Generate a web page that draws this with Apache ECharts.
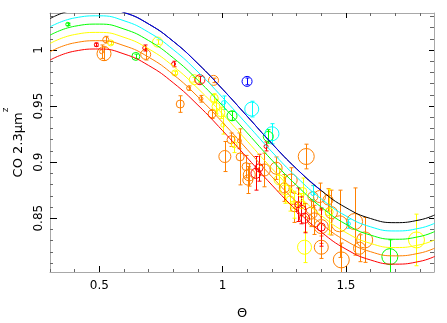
<!DOCTYPE html>
<html>
<head>
<meta charset="utf-8">
<script src="https://cdn.jsdelivr.net/npm/echarts@6/dist/echarts.min.js"></script>
<style>
  html, body { margin: 0; padding: 0; background: #ffffff; }
  #chart { width: 447px; height: 323px; }
</style>
</head>
<body>
<div id="chart"></div>
<script>
// Model curves, sampled along Θ
const thetaGrid = [0.30, 0.40, 0.50, 0.60, 0.70, 0.80, 0.90, 1.00, 1.10, 1.20, 1.30, 1.40, 1.50, 1.60, 1.70, 1.80, 1.86];
const curveRed    = [0.9910, 0.9990, 1.0009, 0.9965, 0.9862, 0.9707, 0.9508, 0.9280, 0.9038, 0.8795, 0.8570, 0.8376, 0.8224, 0.8127, 0.8090, 0.8115, 0.8159];
const curveOrange = [0.9984, 1.0064, 1.0083, 1.0039, 0.9936, 0.9781, 0.9582, 0.9354, 0.9112, 0.8869, 0.8644, 0.8450, 0.8298, 0.8201, 0.8164, 0.8189, 0.8233];
const curveYellow = [1.0058, 1.0138, 1.0157, 1.0113, 1.0010, 0.9855, 0.9656, 0.9428, 0.9186, 0.8943, 0.8718, 0.8524, 0.8372, 0.8275, 0.8238, 0.8263, 0.8307];
const curveGreen  = [1.0132, 1.0212, 1.0231, 1.0187, 1.0084, 0.9929, 0.9730, 0.9502, 0.9260, 0.9017, 0.8792, 0.8598, 0.8446, 0.8349, 0.8312, 0.8337, 0.8381];
const curveCyan   = [1.0206, 1.0286, 1.0305, 1.0261, 1.0158, 1.0003, 0.9804, 0.9576, 0.9334, 0.9091, 0.8866, 0.8672, 0.8520, 0.8423, 0.8386, 0.8411, 0.8455];
const curveBlack  = [1.0280, 1.0360, 1.0379, 1.0335, 1.0232, 1.0077, 0.9878, 0.9650, 0.9408, 0.9165, 0.8940, 0.8746, 0.8594, 0.8497, 0.8460, 0.8485, 0.8529];
// the blue stretch of the top curve
const thetaBlue   = [0.40, 0.50, 0.60, 0.70, 0.80, 0.90, 1.00, 1.10, 1.20, 1.30, 1.40];
const curveBlue   = [1.0360, 1.0379, 1.0335, 1.0232, 1.0077, 0.9878, 0.9650, 0.9408, 0.9165, 0.8940, 0.8746];

// Measurements: [Θ, CO index, error, weight]
const ptsRed = [
  [0.488, 1.0047, 0.0015, 1], [0.684, 1.0018, 0.0027, 1], [0.801, 0.9875, 0.0025, 1],
  [0.908, 0.9735, 0.0030, 2.5], [1.135, 0.8900, 0.0150, 2.5], [1.148, 0.8950, 0.0120, 2],
  [1.176, 0.9140, 0.0040, 1], [1.319, 0.8570, 0.0120, 2.5], [1.332, 0.8500, 0.0130, 2.5],
  [1.400, 0.8420, 0.0170, 2], [1.305, 0.8620, 0.0150, 1.5]
];
const ptsOrange = [
  [0.526, 1.0092, 0.0030, 1.5], [0.519, 0.9967, 0.0060, 3.5], [0.509, 0.9985, 0.0060, 1],
  [0.688, 0.9961, 0.0050, 2.5], [0.862, 0.9660, 0.0020, 1], [0.828, 0.9518, 0.0074, 2],
  [0.912, 0.9565, 0.0030, 1], [0.963, 0.9729, 0.0020, 2.5], [0.957, 0.9430, 0.0040, 2],
  [1.009, 0.9050, 0.0134, 3], [1.071, 0.9047, 0.0250, 2], [1.102, 0.8840, 0.0120, 2.5],
  [1.095, 0.8960, 0.0100, 2], [1.034, 0.9200, 0.0060, 2], [1.068, 0.9190, 0.0070, 1],
  [1.108, 0.8886, 0.0100, 3], [1.169, 0.8930, 0.0150, 3], [1.217, 0.8946, 0.0100, 3],
  [1.278, 0.8840, 0.0110, 3], [1.339, 0.9050, 0.0110, 4], [1.366, 0.8693, 0.0100, 2.5],
  [1.393, 0.8693, 0.0120, 3], [1.427, 0.8663, 0.0100, 2.5], [1.372, 0.8485, 0.0130, 3.5],
  [1.359, 0.8545, 0.0120, 3], [1.400, 0.8425, 0.0150, 3.5], [1.474, 0.8450, 0.0300, 4],
  [1.535, 0.8470, 0.0300, 4], [1.576, 0.8306, 0.0200, 4], [1.555, 0.8232, 0.0120, 3],
  [1.481, 0.8128, 0.0150, 4], [1.400, 0.8241, 0.0100, 3.5], [1.291, 0.8592, 0.0130, 2],
  [1.441, 0.8550, 0.0200, 3], [1.250, 0.8770, 0.0120, 2.5]
];
const ptsYellow = [
  [0.546, 1.0063, 0.0015, 1.5], [0.736, 1.0071, 0.0020, 2.5], [0.806, 0.9795, 0.0015, 1.5],
  [0.885, 0.9735, 0.0020, 2.5], [0.966, 0.9570, 0.0040, 2], [0.973, 0.9496, 0.0060, 2],
  [0.993, 0.9440, 0.0050, 2], [1.001, 0.9330, 0.0080, 1], [1.047, 0.9155, 0.0070, 1.5],
  [1.229, 0.8842, 0.0100, 2.5], [1.253, 0.8753, 0.0120, 2.5], [1.274, 0.8663, 0.0100, 2],
  [1.325, 0.8738, 0.0120, 2], [1.319, 0.8620, 0.0100, 2], [1.332, 0.8241, 0.0137, 3.5],
  [1.432, 0.8557, 0.0200, 2], [1.786, 0.8306, 0.0230, 4], [1.290, 0.8620, 0.0120, 2]
];
const ptsGreen = [
  [0.372, 1.0229, 0.0010, 1], [0.648, 0.9943, 0.0020, 2], [1.038, 0.9413, 0.0040, 2.5],
  [1.185, 0.9229, 0.0060, 2.5], [1.678, 0.8157, 0.0150, 4]
];
const ptsCyan = [
  [1.004, 0.9530, 0.0060, 1], [1.118, 0.9473, 0.0070, 3.5], [1.200, 0.9253, 0.0090, 3.5],
  [1.366, 0.8720, 0.0070, 1], [1.510, 0.8450, 0.0040, 1]
];
const ptsBlue = [
  [1.099, 0.9720, 0.0030, 2.5]
];

// Tick values
const xMajorTicks = [0.5, 1, 1.5];
const xMinorTicks = [0.3, 0.4, 0.6, 0.7, 0.8, 0.9, 1.1, 1.2, 1.3, 1.4, 1.6, 1.7, 1.8];
const yMajorTicks = [0.85, 0.9, 0.95, 1];
const yMinorTicks = [0.81, 0.82, 0.83, 0.84, 0.86, 0.87, 0.88, 0.89, 0.91, 0.92, 0.93, 0.94,
                     0.96, 0.97, 0.98, 0.99, 1.01, 1.02, 1.03];

const COLORS = {
  red: '#ff0000', orange: '#ff8000', yellow: '#ffff00', green: '#00ff00',
  cyan: '#00ffff', blue: '#0000ff', black: '#000000'
};
const FONT = 'DejaVu Sans';
const X_MIN = 0.3, X_MAX = 1.857, Y_MIN = 0.802, Y_MAX = 1.033;

function xAxisOf(position, ticks, len, tickColor, withLine, withLabels) {
  return {
    type: 'value', position: position, min: X_MIN, max: X_MAX,
    splitLine: { show: false },
    axisLine: { show: withLine, lineStyle: { color: '#a8a8a8', width: 1 } },
    axisTick: { show: true, inside: true, length: len, customValues: ticks,
                lineStyle: { color: tickColor, width: 1 } },
    axisLabel: withLabels
      ? { show: true, customValues: ticks, margin: 8, color: '#000', fontSize: 12,
          fontFamily: FONT, formatter: v => String(v) }
      : { show: false }
  };
}
function yAxisOf(position, ticks, len, tickColor, withLine, withLabels) {
  return {
    type: 'value', position: position, min: Y_MIN, max: Y_MAX,
    splitLine: { show: false },
    axisLine: { show: withLine, lineStyle: { color: '#a8a8a8', width: 1 } },
    axisTick: { show: true, inside: true, length: len, customValues: ticks,
                lineStyle: { color: tickColor, width: 1 } },
    axisLabel: withLabels
      ? { show: true, customValues: ticks, margin: 5, rotate: 90, color: '#000',
          fontSize: 12, fontFamily: FONT, formatter: v => String(v) }
      : { show: false }
  };
}

const xMain = xAxisOf('bottom', xMajorTicks, 6, '#000', true, true);
xMain.name = 'Θ';
xMain.nameLocation = 'middle';
xMain.nameGap = 35;
xMain.nameTextStyle = { fontSize: 13, fontFamily: FONT, color: '#000' };

const yMain = yAxisOf('left', yMajorTicks, 7, '#000', true, true);
yMain.name = '{m|CO 2.3μm}{s|z}';
yMain.nameLocation = 'middle';
yMain.nameGap = 24;
yMain.nameTextStyle = {
  fontFamily: FONT, color: '#000',
  rich: {
    m: { fontSize: 13, lineHeight: 24, verticalAlign: 'bottom', fontFamily: FONT, color: '#000' },
    s: { fontSize: 9, verticalAlign: 'top', fontFamily: FONT, color: '#000' }
  }
};

function curveSeries(xs, ys, color, z) {
  return {
    type: 'line', xAxisIndex: 0, yAxisIndex: 0,
    data: xs.map((x, i) => [x, ys[i]]),
    smooth: true, showSymbol: false, symbol: 'none', clip: true, silent: true,
    lineStyle: { color: color, width: 1 }, z: z
  };
}

function errorSeries(pts, color) {
  return {
    type: 'custom', xAxisIndex: 0, yAxisIndex: 0, data: pts, clip: true, silent: true,
    encode: { x: 0, y: 1 }, z: 2,
    renderItem: function (params, api) {
      const x = api.value(0), y = api.value(1), e = api.value(2);
      const top = api.coord([x, y + e]);
      const bot = api.coord([x, y - e]);
      const cx = Math.round(top[0]) + 0.5;
      const cap = 2;
      const st = { stroke: color, lineWidth: 1 };
      return {
        type: 'group',
        children: [
          { type: 'line', shape: { x1: cx, y1: top[1], x2: cx, y2: bot[1] }, style: st },
          { type: 'line', shape: { x1: cx - cap, y1: top[1], x2: cx + cap, y2: top[1] }, style: st },
          { type: 'line', shape: { x1: cx - cap, y1: bot[1], x2: cx + cap, y2: bot[1] }, style: st }
        ]
      };
    }
  };
}

function pointSeries(pts, color) {
  return {
    type: 'scatter', xAxisIndex: 0, yAxisIndex: 0, data: pts, clip: true, silent: true,
    symbol: 'circle', symbolSize: v => 4 * v[3], z: 2,
    itemStyle: { color: 'rgba(0,0,0,0)', borderColor: color, borderWidth: 1, opacity: 1 }
  };
}

const groups = [
  [ptsOrange, COLORS.orange], [ptsYellow, COLORS.yellow], [ptsRed, COLORS.red],
  [ptsGreen, COLORS.green], [ptsCyan, COLORS.cyan], [ptsBlue, COLORS.blue]
];

const series = [];
groups.forEach(([pts, c]) => { series.push(errorSeries(pts, c)); series.push(pointSeries(pts, c)); });
series.push(curveSeries(thetaGrid, curveBlack, COLORS.black, 3));
series.push(curveSeries(thetaBlue, curveBlue, COLORS.blue, 4));
series.push(curveSeries(thetaGrid, curveCyan, COLORS.cyan, 3));
series.push(curveSeries(thetaGrid, curveGreen, COLORS.green, 3));
series.push(curveSeries(thetaGrid, curveYellow, COLORS.yellow, 3));
series.push(curveSeries(thetaGrid, curveOrange, COLORS.orange, 3));
series.push(curveSeries(thetaGrid, curveRed, COLORS.red, 3));

const chart = echarts.init(document.getElementById('chart'), null, { renderer: 'canvas' });
chart.setOption({
  animation: false,
  backgroundColor: '#ffffff',
  grid: { left: 50, right: 13, top: 13, bottom: 51, outerBoundsMode: 'none' },
  xAxis: [
    xMain,
    xAxisOf('bottom', xMinorTicks, 3, '#666', false, false),
    xAxisOf('top', xMajorTicks, 5, '#000', true, false),
    xAxisOf('top', xMinorTicks, 3, '#666', false, false)
  ],
  yAxis: [
    yMain,
    yAxisOf('left', yMinorTicks, 3, '#666', false, false),
    yAxisOf('right', yMajorTicks, 5, '#000', true, false),
    yAxisOf('right', yMinorTicks, 4, '#666', false, false)
  ],
  series: series
});
</script>
</body>
</html>
